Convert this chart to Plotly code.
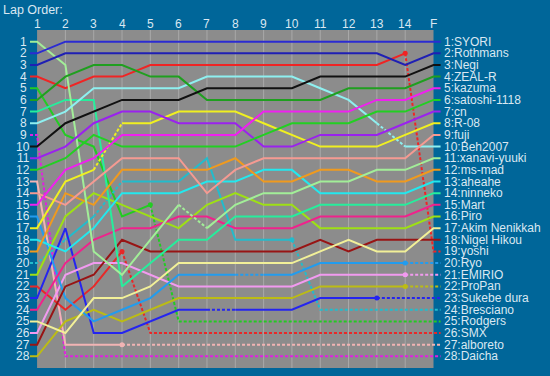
import plotly.graph_objects as go

# ---------------- data ----------------
lap_labels = ["1", "2", "3", "4", "5", "6", "7", "8", "9", "10", "11", "12", "13", "14", "F"]
lap_numbers = list(range(1, 16))

final_order = ["SYORI", "Rothmans", "Negi", "ZEAL-R", "kazuma", "satoshi-1118", "cn", "R-08",
               "fuji", "Beh2007", "xanavi-yuuki", "ms-mad", "aheahe", "ninneko", "Mart", "Piro",
               "Akim Nenikkah", "Nigel Hikou", "yoshi", "Ryo", "EMIRIO", "ProPan", "Sukebe dura",
               "Bresciano", "Rodgers", "SMX", "alboreto", "Daicha"]

pos_syori     = [2, 1, 1, 1, 1, 1, 1, 1, 1, 1, 1, 1, 1, 1, 1]
pos_rothmans  = [3, 2, 2, 2, 2, 2, 2, 2, 2, 2, 2, 2, 2, 3, 2]
pos_negi      = [10, 8, 7, 6, 6, 6, 5, 5, 5, 5, 4, 4, 4, 4, 3]
pos_zeal      = [6, 4, 3, 3, 4, 4, 6, 6, 6, 6, 6, 5, 5, 5, 4]
pos_kazuma    = [15, 12, 11, 9, 9, 9, 9, 9, 7, 7, 7, 7, 6, 6, 5]
pos_satoshi   = [12, 11, 9, 10, 10, 10, 10, 10, 9, 8, 8, 8, 7, 7, 6]
pos_cn        = [11, 10, 8, 7, 7, 8, 8, 8, 10, 10, 9, 9, 9, 8, 7]
pos_r08       = [17, 13, 12, 8, 8, 7, 7, 7, 8, 9, 10, 10, 10, 9, 8]
pos_fuji      = [14, 15, 13, 11, 11, 11, 14, 12, 11, 11, 11, 11, 11, 11, 9]
pos_beh       = [8, 7, 5, 5, 5, 5, 4, 4, 4, 4, 5, 6, 8, 10, 10]
pos_xanavi    = [1, 3, 19, 21, 18, 15, 17, 15, 14, 14, 13, 13, 12, 12, 11]
pos_msmad     = [19, 14, 15, 12, 12, 12, 12, 11, 13, 13, 12, 12, 13, 13, 12]
pos_aheahe    = [18, 19, 17, 14, 14, 14, 13, 13, 12, 12, 14, 14, 14, 14, 13]
pos_ninneko   = [7, 6, 6, 22, 20, 18, 18, 16, 16, 16, 15, 15, 15, 15, 14]
pos_mart      = [24, 20, 18, 17, 17, 16, 16, 17, 17, 17, 16, 16, 16, 16, 15]
pos_piro      = [21, 16, 14, 15, 16, 17, 15, 14, 15, 15, 17, 17, 17, 17, 16]
pos_akim      = [25, 26, 23, 23, 22, 20, 20, 20, 20, 20, 19, 18, 19, 19, 17]
pos_nigel     = [27, 22, 21, 18, 19, 19, 19, 19, 19, 19, 18, 19, 18, 18, 18]
pos_yoshi     = [4, 5, 4, 4, 3, 3, 3, 3, 3, 3, 3, 3, 3, 2, 19]
pos_ryo       = [16, 23, 25, 24, 23, 21, 21, 21, 21, 21, 20, 20, 20, 20, 20]
pos_emirio    = [26, 21, 20, 20, 21, 22, 22, 22, 22, 22, 21, 21, 21, 21, 21]
pos_propan    = [28, 25, 24, 25, 24, 23, 23, 23, 23, 23, 22, 22, 22, 22, 22]
pos_sukebe    = [23, 17, 26, 26, 25, 24, 24, 24, 24, 24, 23, 23, 23, 23, 23]
pos_bresciano = [20, 18, 16, 13, 13, 13, 11, 18, 18, 18, 24, 24, 24, 24, 24]
pos_rodgers   = [5, 9, 10, 16, 15, 25, 25, 25, 25, 25, 25, 25, 25, 25, 25]
pos_smx       = [22, 24, 22, 19, 26, 26, 26, 26, 26, 26, 26, 26, 26, 26, 26]
pos_alboreto  = [13, 27, 27, 27, 27, 27, 27, 27, 27, 27, 27, 27, 27, 27, 27]
pos_daicha    = [9, 28, 28, 28, 28, 28, 28, 28, 28, 28, 28, 28, 28, 28, 28]

positions = {
    "SYORI": pos_syori, "Rothmans": pos_rothmans, "Negi": pos_negi, "ZEAL-R": pos_zeal,
    "kazuma": pos_kazuma, "satoshi-1118": pos_satoshi, "cn": pos_cn, "R-08": pos_r08,
    "fuji": pos_fuji, "Beh2007": pos_beh, "xanavi-yuuki": pos_xanavi, "ms-mad": pos_msmad,
    "aheahe": pos_aheahe, "ninneko": pos_ninneko, "Mart": pos_mart, "Piro": pos_piro,
    "Akim Nenikkah": pos_akim, "Nigel Hikou": pos_nigel, "yoshi": pos_yoshi, "Ryo": pos_ryo,
    "EMIRIO": pos_emirio, "ProPan": pos_propan, "Sukebe dura": pos_sukebe,
    "Bresciano": pos_bresciano, "Rodgers": pos_rodgers, "SMX": pos_smx,
    "alboreto": pos_alboreto, "Daicha": pos_daicha,
}

# lap intervals (0 = lap1->lap2 ... 13 = lap14->F) drawn dotted
dotted_segments = {
    "xanavi-yuuki": [5],
    "R-08": [2],
    "Beh2007": [12],
    "Bresciano": [0, 2, 9, 10, 11, 12, 13],
    "Ryo": [7, 13],
    "Sukebe dura": [6, 12, 13],
    "EMIRIO": [13],
    "ProPan": [13],
    "yoshi": [13],
    "Rodgers": list(range(4, 14)),
    "SMX": list(range(3, 14)),
    "alboreto": list(range(3, 14)),
    "Daicha": list(range(0, 14)),
}
dotted_start = ["Bresciano", "Daicha"]

# ---------------- styles ----------------
colors = {
    "SYORI": "#2b2bd2", "Rothmans": "#1f1fb4", "Negi": "#111111", "ZEAL-R": "#1f9f1f",
    "kazuma": "#f020f0", "satoshi-1118": "#22d022", "cn": "#9a22ee", "R-08": "#f0f020",
    "fuji": "#f59a92", "Beh2007": "#8ef0f0", "xanavi-yuuki": "#a2ee98", "ms-mad": "#f09a1e",
    "aheahe": "#22e8ee", "ninneko": "#26ee9c", "Mart": "#f0228c", "Piro": "#9ee014",
    "Akim Nenikkah": "#f2f098", "Nigel Hikou": "#981414", "yoshi": "#f02424", "Ryo": "#229cee",
    "EMIRIO": "#f29af0", "ProPan": "#bcbc14", "Sukebe dura": "#2424f0", "Bresciano": "#22bccc",
    "Rodgers": "#22cc22", "SMX": "#e82828", "alboreto": "#f2b4b4", "Daicha": "#e020e0",
}
BG = "#006699"
PLOT_BG = "#8c8c8c"
GRID = "#a9a9a9"
TEXT = "#dae8f2"
FONT = "Liberation Sans, Arial, sans-serif"
STUB = 0.25
DOT = "3px,2px"

W, H = 550, 376
ML, MT = 30, 30
X0, X1 = 0.75, 15.3
Y0, Y1 = 29, 0
PW = (X1 - X0) * 28.3
PH = 29 * 11.67
MR = W - ML - PW
MB = H - MT - PH

fig = go.Figure()

for name in reversed(final_order):
    p = positions[name]
    dset = set(dotted_segments.get(name, []))
    segs = []
    segs.append(((lap_numbers[0] - STUB, p[0]), (lap_numbers[0], p[0]), name in dotted_start))
    for i in range(len(p) - 1):
        segs.append(((lap_numbers[i], p[i]), (lap_numbers[i + 1], p[i + 1]), i in dset))
    segs.append(((lap_numbers[-1], p[-1]), (lap_numbers[-1] + STUB, p[-1]), (len(p) - 2) in dset))
    runs = []
    for a, b, d in segs:
        if runs and runs[-1][0] == d:
            runs[-1][1].append(b)
        else:
            runs.append([d, [a, b]])
    for d, pts in runs:
        fig.add_trace(go.Scatter(
            x=[q[0] for q in pts], y=[q[1] for q in pts], mode="lines",
            line=dict(color=colors[name], width=2, dash=DOT if d else "solid"),
            hoverinfo="skip", showlegend=False))
    # dot where a dotted tail (retirement) starts
    tail = 0
    for i in range(len(p) - 2, -1, -1):
        if i in dset:
            tail = i
        else:
            break
    if (len(p) - 2) in dset and tail > 0:
        fig.add_trace(go.Scatter(x=[lap_numbers[tail]], y=[p[tail]], mode="markers",
                                 marker=dict(color=colors[name], size=5),
                                 hoverinfo="skip", showlegend=False))

shapes = [dict(type="rect", xref="x", yref="y", x0=1, x1=15, y0=0, y1=29,
               fillcolor=PLOT_BG, line=dict(width=0), layer="below")]
for lap in lap_numbers[1:-1]:
    shapes.append(dict(type="line", xref="x", yref="y", x0=lap, x1=lap, y0=0, y1=29,
                       line=dict(color=GRID, width=1), layer="below"))


def px_x(px):
    return (px - ML) / PW


def px_y(py):
    return 1 - (py - MT) / PH


annotations = [dict(text="Lap Order:", xref="paper", yref="paper", x=px_x(2), y=px_y(10),
                    xanchor="left", yanchor="middle", showarrow=False, borderpad=0,
                    font=dict(size=12.5, color=TEXT, family=FONT))]
for lap, lab in zip(lap_numbers, lap_labels):
    annotations.append(dict(text=lab, xref="x", yref="paper", x=lap, y=px_y(23.5),
                            xanchor="center", yanchor="middle", showarrow=False, borderpad=0,
                            font=dict(size=12, color=TEXT, family=FONT)))
for k in range(1, 29):
    annotations.append(dict(text=str(k), xref="paper", yref="y", x=px_x(23.3), y=k,
                            xanchor="center", yanchor="middle", showarrow=False, borderpad=0,
                            font=dict(size=12, color=TEXT, family=FONT)))
for k, name in enumerate(final_order, start=1):
    annotations.append(dict(text=f"{k}:{name}", xref="paper", yref="y", x=px_x(442.5), y=k,
                            xanchor="left", yanchor="middle", showarrow=False, borderpad=0,
                            font=dict(size=12, color=TEXT, family=FONT)))

fig.update_layout(
    width=W, height=H,
    margin=dict(l=ML, r=MR, t=MT, b=MB, pad=0),
    paper_bgcolor=BG, plot_bgcolor=BG,
    xaxis=dict(range=[X0, X1], visible=False, fixedrange=True),
    yaxis=dict(range=[Y0, Y1], visible=False, fixedrange=True),
    shapes=shapes, annotations=annotations, showlegend=False,
)

fig.write_html("out.html", config={"displayModeBar": False},
               post_script="document.body.style.margin='0';document.body.style.overflow='hidden';")
